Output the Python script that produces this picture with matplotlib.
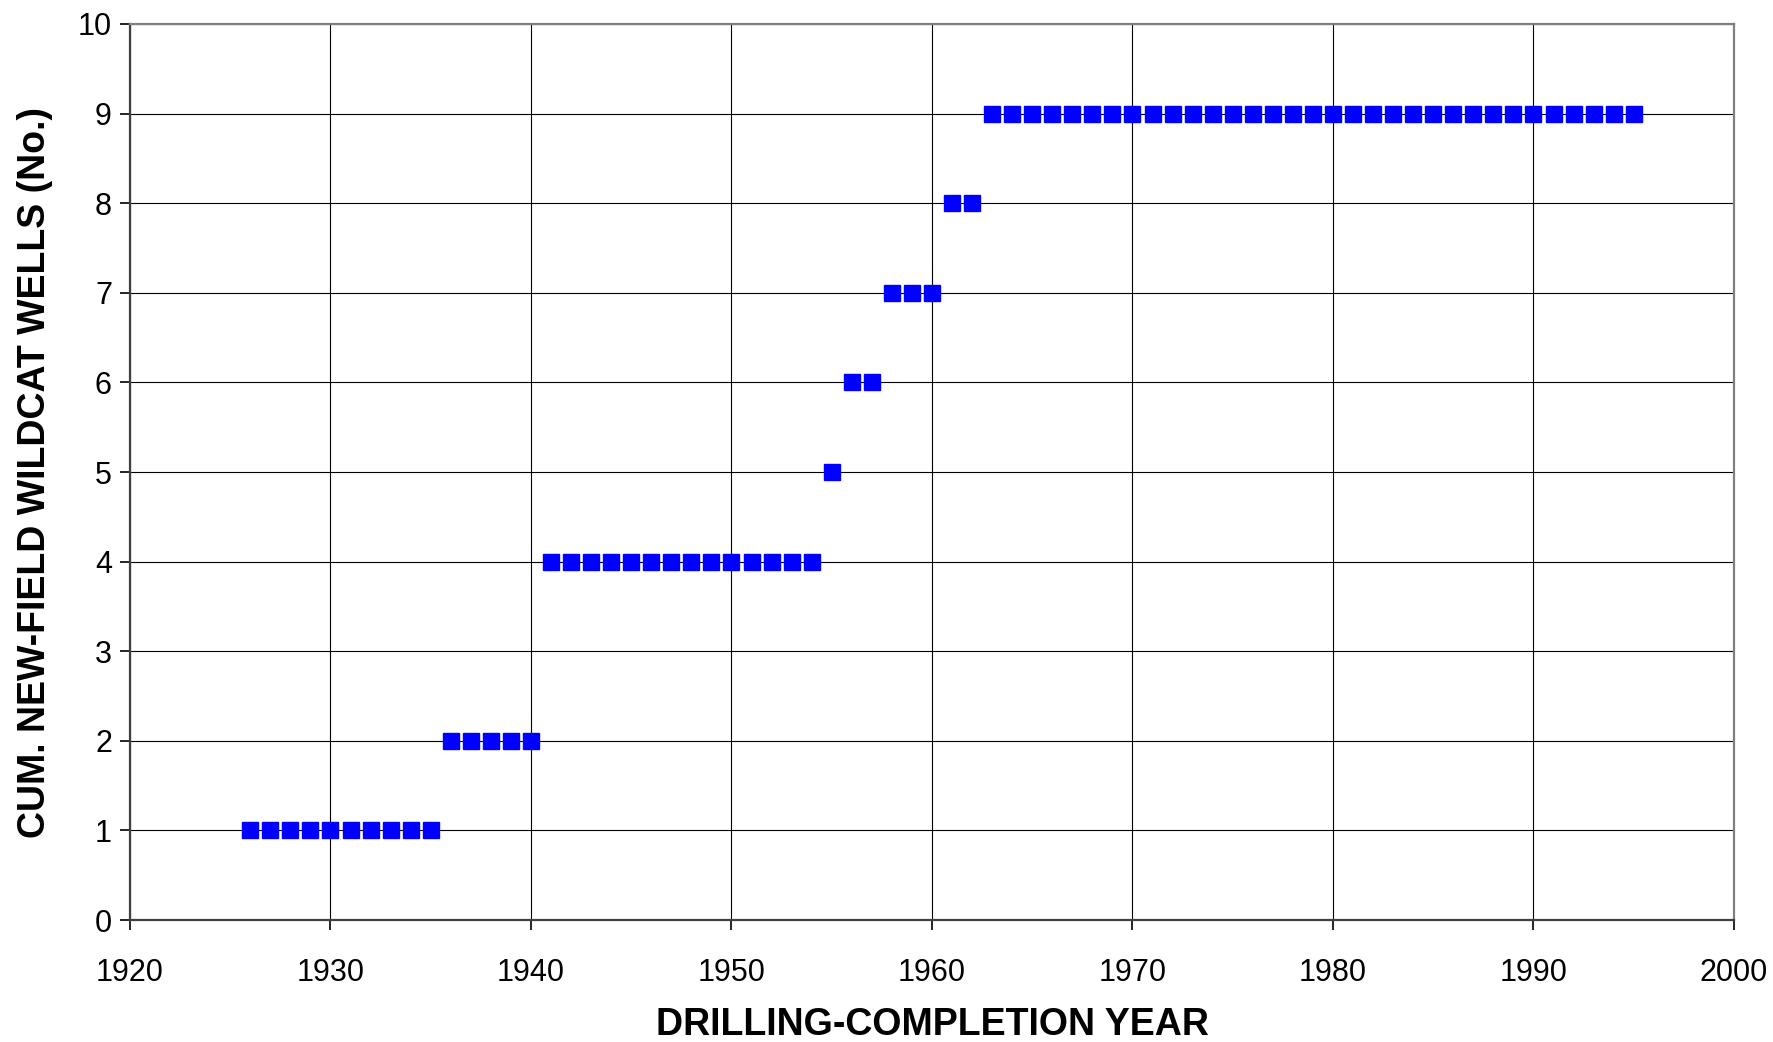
import matplotlib
matplotlib.use("Agg")
import matplotlib.pyplot as plt

plt.rcParams['font.family'] = ['Liberation Sans', 'DejaVu Sans']

# cumulative new-field wildcat wells by year
years = list(range(1926, 1996))
wells = ([1] * 10 +      # 1926-1935
         [2] * 5 +       # 1936-1940
         [4] * 14 +      # 1941-1954
         [5] * 1 +       # 1955
         [6] * 2 +       # 1956-1957
         [7] * 3 +       # 1958-1960
         [8] * 2 +       # 1961-1962
         [9] * 33)       # 1963-1995

xticks = list(range(1920, 2001, 10))
yticks = list(range(0, 11))

fig = plt.figure(figsize=(17.73, 10.42), dpi=100)
ax = fig.add_axes([0.0733, 0.117, 0.9047, 0.86])

ax.plot(years, wells, linestyle='none', marker='s', markersize=11,
        color='#0000ff', markeredgecolor='#0000ff', zorder=3)

ax.set_xlim(1920, 2000)
ax.set_ylim(0, 10)
ax.set_xticks(xticks)
ax.set_yticks(yticks)
ax.grid(True, color='#000000', linewidth=0.8)
ax.set_axisbelow(True)

ax.tick_params(axis='both', direction='out', length=7, width=1.2, labelsize=22)
ax.tick_params(axis='x', pad=20)
ax.tick_params(axis='y', pad=6)

for side in ['left', 'bottom']:
    ax.spines[side].set_color('#404040')
    ax.spines[side].set_linewidth(1.6)
for side in ['top', 'right']:
    ax.spines[side].set_color('#808080')
    ax.spines[side].set_linewidth(1.6)

ax.set_xlabel('DRILLING-COMPLETION YEAR', fontsize=27, fontweight='bold', labelpad=14)
ax.set_ylabel('CUM. NEW-FIELD WILDCAT WELLS (No.)', fontsize=27, fontweight='bold', labelpad=18)

fig.savefig('out.png', dpi=100)
